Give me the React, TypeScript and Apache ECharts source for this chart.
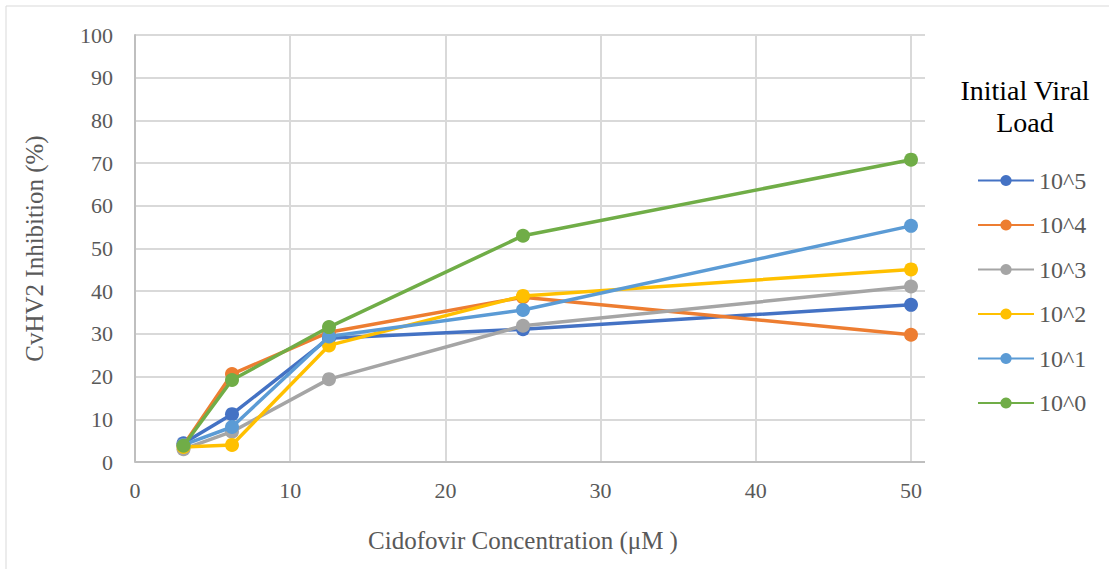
import React, { useEffect, useRef } from "react";
import * as echarts from "echarts";

const concentrations = [3.125, 6.25, 12.5, 25, 50];
const seriesNames = ["10^5", "10^4", "10^3", "10^2", "10^1", "10^0"];
const load5 = [4.4, 11.2, 29.0, 31.1, 36.8];
const load4 = [3.9, 20.6, 30.4, 38.6, 29.8];
const load3 = [3.0, 7.1, 19.4, 31.9, 41.1];
const load2 = [3.5, 4.0, 27.3, 38.9, 45.1];
const load1 = [4.0, 8.2, 29.4, 35.6, 55.3];
const load0 = [3.8, 19.2, 31.6, 53.0, 70.8];
const seriesValues = [load5, load4, load3, load2, load1, load0];
const colors = ["#4472C4", "#ED7D31", "#A5A5A5", "#FFC000", "#5B9BD5", "#70AD47"];
const xTicks = { min: 0, max: 50, interval: 10 };
const yTicks = { min: 0, max: 100, interval: 10 };

const FONT = "Liberation Serif, Times New Roman, serif";

export default function App() {
  const ref = useRef<HTMLDivElement>(null);
  useEffect(() => {
    if (!ref.current) return;
    const chart = echarts.init(ref.current, undefined, { renderer: "svg" });
    const plotTop = 35;
    const plotHeight = 427;
    chart.setOption({
      animation: false,
      backgroundColor: "#ffffff",
      textStyle: { fontFamily: FONT },
      graphic: [
        {
          type: "rect",
          shape: { x: 6, y: 6, width: 1130, height: 600 },
          style: { fill: "none", stroke: "#d9d9d9", lineWidth: 1 },
          z: -10,
        },
        {
          type: "text",
          x: 1025,
          y: 74,
          style: {
            text: "Initial Viral\nLoad",
            fontFamily: FONT,
            fontSize: 28,
            fill: "#000000",
            align: "center",
            verticalAlign: "top",
            lineHeight: 32,
          },
        },
      ],
      grid: [
        { left: 135, top: plotTop, width: 776, height: plotHeight },
        { left: 135, top: plotTop, width: 790, height: plotHeight },
      ],
      xAxis: [
        {
          type: "value",
          gridIndex: 0,
          min: xTicks.min,
          max: xTicks.max,
          interval: xTicks.interval,
          name: "Cidofovir Concentration (μM )",
          nameLocation: "middle",
          nameGap: 66,
          nameTextStyle: { fontFamily: FONT, fontSize: 25, color: "#595959" },
          axisLine: { show: false },
          axisTick: { show: false },
          axisLabel: { fontFamily: FONT, fontSize: 22, color: "#595959", margin: 17 },
          splitLine: { show: true, lineStyle: { color: "#d9d9d9", width: 2 } },
        },
        {
          type: "value",
          gridIndex: 1,
          min: 0,
          max: 1,
          show: false,
          splitLine: { show: false },
        },
      ],
      yAxis: [
        {
          type: "value",
          gridIndex: 0,
          min: yTicks.min,
          max: yTicks.max,
          interval: yTicks.interval,
          name: "CvHV2 Inhibition (%)",
          nameLocation: "middle",
          nameGap: 88,
          nameRotate: 90,
          nameTextStyle: { fontFamily: FONT, fontSize: 25, color: "#595959" },
          axisLine: { show: false },
          axisTick: { show: false },
          axisLabel: { fontFamily: FONT, fontSize: 22, color: "#595959", margin: 22 },
          splitLine: { show: false },
        },
        {
          type: "value",
          gridIndex: 1,
          min: yTicks.min,
          max: yTicks.max,
          interval: yTicks.interval,
          axisLine: { show: true, onZero: false, lineStyle: { color: "#bfbfbf", width: 2 } },
          axisTick: { show: false },
          axisLabel: { show: false },
          splitLine: { show: true, lineStyle: { color: "#d9d9d9", width: 2 } },
        },
      ],
      legend: {
        orient: "vertical",
        left: 977,
        top: 168,
        padding: 0,
        itemWidth: 56,
        itemHeight: 14,
        itemGap: 19.5,
        data: seriesNames,
        textStyle: { fontFamily: FONT, fontSize: 24, color: "#595959", lineHeight: 25 },
      },
      series: [
        {
          type: "line",
          xAxisIndex: 1,
          yAxisIndex: 1,
          data: [],
          silent: true,
          markLine: {
            silent: true,
            symbol: "none",
            label: { show: false },
            lineStyle: { color: "#bfbfbf", width: 2, type: "solid" },
            data: [[{ coord: [0, 0] }, { coord: [1, 0] }]],
          },
        },
        ...seriesNames.map((name, i) => ({
          type: "line",
          name,
          xAxisIndex: 0,
          yAxisIndex: 0,
          data: concentrations.map((c, j) => [c, seriesValues[i][j]]),
          color: colors[i],
          symbol: "circle",
          symbolSize: 14,
          lineStyle: { width: 3.5, color: colors[i] },
          itemStyle: { color: colors[i] },
          z: 3 + i,
        })),
      ],
    });
    return () => chart.dispose();
  }, []);
  return (
    <div
      ref={ref}
      style={{ position: "fixed", left: 0, top: 0, width: 1109, height: 569 }}
    />
  );
}
